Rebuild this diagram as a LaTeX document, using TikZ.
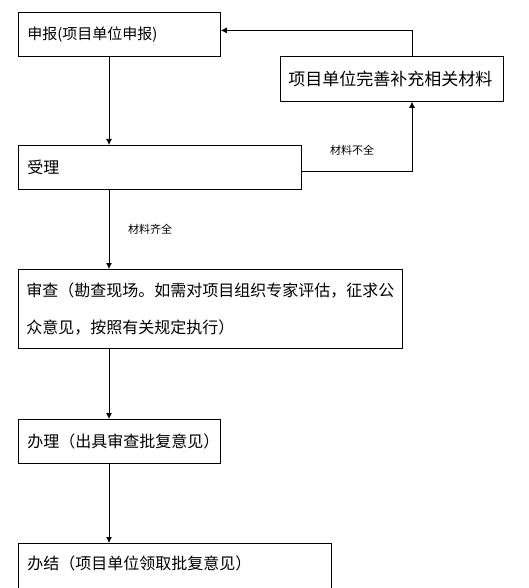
\documentclass[tikz,border=0pt]{standalone}
\usepackage{fontspec}
\setmainfont{Noto Sans CJK SC}
\usetikzlibrary{arrows.meta,positioning}

\begin{document}
\begin{tikzpicture}[x=1pt,y=-1pt,>={Latex[length=6pt,width=6pt]},line width=0.8pt]
\tikzset{stepbox/.style={draw,rectangle,anchor=north west,align=left,inner xsep=9pt,inner ysep=4pt,font=\fontsize{16}{37}\selectfont}}
\tikzset{note/.style={font=\fontsize{11}{13}\selectfont}}
\useasboundingbox (0,0) rectangle (528,588);
\clip (0,0) rectangle (528,588);
\node[stepbox,text width=184pt,minimum height=44pt,font=\fontsize{15}{18}\selectfont] (shenbao) at (18,12) {申报(项目单位申报)};
\node[stepbox,inner xsep=8pt,text width=207pt,minimum height=45pt,font=\fontsize{17}{20}\selectfont] (buchong) at (280,56) {项目单位完善补充相关材料};
\node[stepbox,text width=265pt,minimum height=44pt] (shouli) at (18,145) {受理};
\node[stepbox,inner xsep=8pt,text width=368pt,minimum height=79pt] (shencha) at (18,269) {审查（勘查现场。如需对项目组织专家评估，征求公\\众意见，按照有关规定执行）};
\node[stepbox,text width=184pt,minimum height=44pt] (banli) at (18,419) {办理（出具审查批复意见）};
\node[stepbox,text width=295pt,text height=22pt,text depth=30pt] (banjie) at (18,543) {办结（项目单位领取批复意见）};
\coordinate (lcol) at (109,0);
\coordinate (rcol) at (412,0);
\foreach \a/\b in {shenbao/shouli,shouli/shencha,shencha/banli,banli/banjie}
  \draw[->] (\a.south -| lcol) -- (\b.north -| lcol);
\draw[->] ([yshift=-4pt]shouli.east) -| (buchong.south -| rcol);
\draw[->] (buchong.north -| rcol) |- ([yshift=4pt]shenbao.east);
\node[note] (buquan) at (352,150) {材料不全};
\node[note] (qiquan) at (150,229) {材料齐全};
\end{tikzpicture}
\end{document}
